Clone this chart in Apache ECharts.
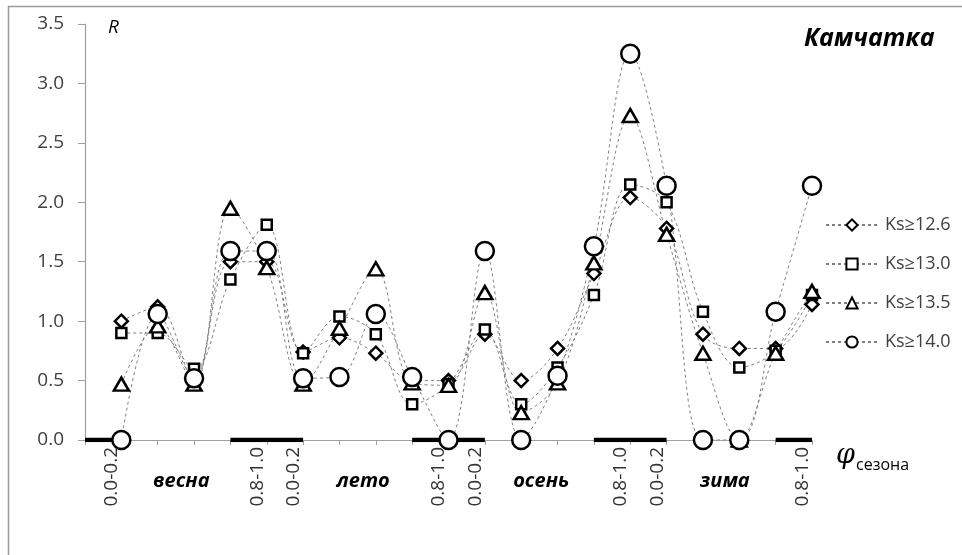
<!DOCTYPE html>
<html>
<head>
<meta charset="utf-8">
<script src="https://cdn.jsdelivr.net/npm/echarts@6/dist/echarts.min.js"></script>
<style>
  html, body { margin: 0; padding: 0; background: #fff; }
  #chart { width: 962px; height: 555px; }
</style>
</head>
<body>
<div id="chart"></div>
<script>
// Phase positions along the x axis: 5 bins per season, 4 seasons
const phase = [1, 2, 3, 4, 5, 6, 7, 8, 9, 10, 11, 12, 13, 14, 15, 16, 17, 18, 19, 20];

// R values for each magnitude threshold
const ks126 = [1.00, 1.12, 0.50, 1.50, 1.50, 0.74, 0.86, 0.73, 0.50, 0.50, 0.89, 0.50, 0.77, 1.40, 2.04, 1.78, 0.89, 0.77, 0.77, 1.14];
const ks130 = [0.90, 0.90, 0.60, 1.35, 1.81, 0.73, 1.04, 0.89, 0.30, 0.47, 0.93, 0.30, 0.61, 1.22, 2.15, 2.00, 1.08, 0.61, 0.75, 1.22];
const ks135 = [0.47, 0.96, 0.47, 1.95, 1.45, 0.47, 0.94, 1.44, 0.48, 0.46, 1.24, 0.23, 0.48, 1.49, 2.73, 1.73, 0.73, 0.00, 0.73, 1.25];
const ks140 = [0.00, 1.06, 0.52, 1.59, 1.59, 0.52, 0.53, 1.06, 0.53, 0.00, 1.59, 0.00, 0.54, 1.63, 3.25, 2.14, 0.00, 0.00, 1.08, 2.14];

const seriesNames = ['Ks≥12.6', 'Ks≥13.0', 'Ks≥13.5', 'Ks≥14.0'];

// Tick labels shown under the axis (phase bin edges of each season)
const tickPositions = [1, 5, 6, 10, 11, 15, 16, 20];
const tickTexts = ['0.0-0.2', '0.8-1.0', '0.0-0.2', '0.8-1.0', '0.0-0.2', '0.8-1.0', '0.0-0.2', '0.8-1.0'];

// Season names and their positions along the phase axis
const seasonNames = ['весна', 'лето', 'осень', 'зима'];
const seasonPos = [2.65, 7.65, 12.55, 17.6];

// Thick segments along the zero line (phase ranges)
const baseSegments = [[0, 1], [4, 6], [9, 11], [14, 16], [19, 20]];

const FONT = '"Open Sans", "Noto Sans", sans-serif';
const chart = echarts.init(document.getElementById('chart'));

function pairs(values) {
  return phase.map((x, i) => [x, values[i]]);
}

function lineSeries(name, values, symbol, size) {
  return {
    name: name,
    type: 'line',
    data: pairs(values),
    smooth: 0.35,
    symbol: symbol,
    symbolSize: size,
    showAllSymbol: true,
    lineStyle: { color: '#808080', width: 1, type: [3, 3] },
    itemStyle: { color: '#fff', borderColor: '#000', borderWidth: 2.5 },
    emphasis: { disabled: true },
    z: 3
  };
}

const segSeries = baseSegments.map(s => ({
  type: 'line',
  data: [[s[0], 0], [s[1], 0]],
  symbol: 'none',
  lineStyle: { color: '#000', width: 4.5 },
  silent: true,
  z: 2
}));

const tickMap = {};
tickPositions.forEach((p, i) => { tickMap[p] = tickTexts[i]; });

chart.setOption({
  animation: false,
  backgroundColor: '#fff',
  grid: { left: 85, right: 150, top: 24, bottom: 115, containLabel: false },
  xAxis: {
    type: 'value',
    min: 0,
    max: 20,
    interval: 1,
    axisLine: { show: true, onZero: false, lineStyle: { color: '#a0a0a0', width: 1.2 } },
    axisTick: { show: true, length: 5, lineStyle: { color: '#a0a0a0' } },
    splitLine: { show: false },
    axisLabel: {
      rotate: 90,
      margin: 7,
      fontFamily: FONT,
      fontSize: 19,
      color: '#333',
      verticalAlign: 'bottom',
      formatter: v => tickMap[v] || ''
    }
  },
  yAxis: {
    type: 'value',
    min: 0,
    max: 3.5,
    interval: 0.5,
    axisLine: { show: true, lineStyle: { color: '#a0a0a0', width: 1.2 } },
    axisTick: { show: true, inside: false, length: 7, lineStyle: { color: '#a0a0a0' } },
    splitLine: { show: false },
    axisLabel: {
      margin: 21,
      fontFamily: FONT,
      fontSize: 19,
      color: '#404040',
      formatter: v => v.toFixed(1)
    }
  },
  legend: {
    data: seriesNames,
    orient: 'vertical',
    left: 820,
    top: 211,
    itemWidth: 52,
    itemHeight: 14,
    itemGap: 21,
    textStyle: { fontFamily: FONT, fontSize: 18, color: '#404040', padding: [0, 0, 0, 2] },
    selectedMode: false
  },
  series: [
    ...segSeries,
    lineSeries(seriesNames[0], ks126, 'diamond', [13, 13]),
    lineSeries(seriesNames[1], ks130, 'rect', [10, 10]),
    lineSeries(seriesNames[2], ks135, 'triangle', [15, 13]),
    lineSeries(seriesNames[3], ks140, 'circle', 18)
  ]
});

// Annotations: frame, axis titles, region name and season names
const graphics = [
  { type: 'rect', shape: { x: 8.5, y: 6.5, width: 1200, height: 1000 },
    style: { fill: 'none', stroke: '#9a9a9a', lineWidth: 1.5 }, silent: true, z: 0 },
  { type: 'text', left: 108, top: 18,
    style: { text: 'R', font: 'italic 19px ' + FONT, fill: '#000' } },
  { type: 'text', left: 804, top: 26,
    style: { text: 'Камчатка', font: 'italic bold 25px ' + FONT, fill: '#000' } },
  { type: 'text', left: 836, top: 442,
    style: { text: 'φ', font: 'italic 27px "DejaVu Serif", "Liberation Serif", serif', fill: '#000' } },
  { type: 'text', left: 856, top: 457,
    style: { text: 'сезона', font: '16px ' + FONT, fill: '#000' } }
];

seasonNames.forEach((name, i) => {
  const px = chart.convertToPixel({ gridIndex: 0 }, [seasonPos[i], 0]);
  graphics.push({
    type: 'text', x: px[0], y: 481,
    style: { text: name, font: 'italic bold 20px ' + FONT, fill: '#000', align: 'center', verticalAlign: 'middle' }
  });
});

chart.setOption({ graphic: graphics });
</script>
</body>
</html>
